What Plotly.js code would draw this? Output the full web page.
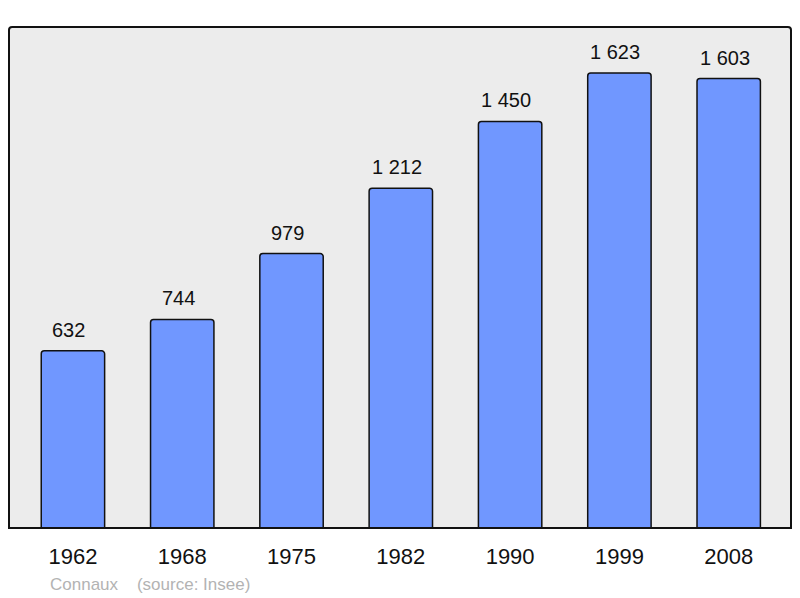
<!DOCTYPE html>
<html><head><meta charset="utf-8">
<script src="https://cdn.plot.ly/plotly-3.0.1.min.js"></script>
<style>body{margin:0;background:#fff}#c{width:800px;height:598px}</style>
</head><body><div id="c"></div>
<script>
const years = ["1962","1968","1975","1982","1990","1999","2008"];
const population = [632, 744, 979, 1212, 1450, 1623, 1603];
const footer = "Connaux    (source: Insee)";

function fmt(v){ return String(v).replace(/\B(?=(\d{3})+(?!\d))/g, " "); }
const xs = years.map((_, i) => i);

const trace = {
  type: "bar", x: xs, y: population, width: 0.58,
  marker: {color: "#7097ff", line: {color: "#111", width: 1.5}, cornerradius: 3},
  hoverinfo: "none"
};
const annotations = population.map((v, i) => ({
  x: i, y: v, xref: "x", yref: "y", text: fmt(v), showarrow: false,
  yanchor: "bottom", yshift: 8, xshift: -4, font: {family: "Liberation Sans, Arial", size: 20, color: "#111"}
}));
annotations.push({
  xref: "paper", yref: "paper", x: 0.0495, y: -0.112, xanchor: "left", yanchor: "middle",
  text: footer, showarrow: false, font: {family: "Liberation Sans, Arial", size: 17, color: "#b3b3b3"}
});
const layout = {
  width: 800, height: 598,
  margin: {l: 9, r: 9, t: 27, b: 70},
  paper_bgcolor: "#fff", plot_bgcolor: "#ececec",
  showlegend: false,
  xaxis: {range: [-0.585, 6.57], tickvals: xs, ticktext: years, showgrid: false, zeroline: false,
    ticks: "outside", ticklen: 9, tickcolor: "rgba(0,0,0,0)",
    tickfont: {family: "Liberation Sans, Arial", size: 22, color: "#111"}, fixedrange: true},
  yaxis: {range: [0, 1787], visible: false, showgrid: false, zeroline: false, fixedrange: true},
  shapes: [{type: "path", xref: "paper", yref: "paper",
    path: "M 0,0 L 0,0.994 Q 0,1 0.004,1 L 0.996,1 Q 1,1 1,0.994 L 1,0 Z",
    line: {color: "#111", width: 2}, fillcolor: "rgba(0,0,0,0)", layer: "above"}],
  annotations: annotations
};
Plotly.newPlot("c", [trace], layout, {staticPlot: true, displayModeBar: false});
</script></body></html>
